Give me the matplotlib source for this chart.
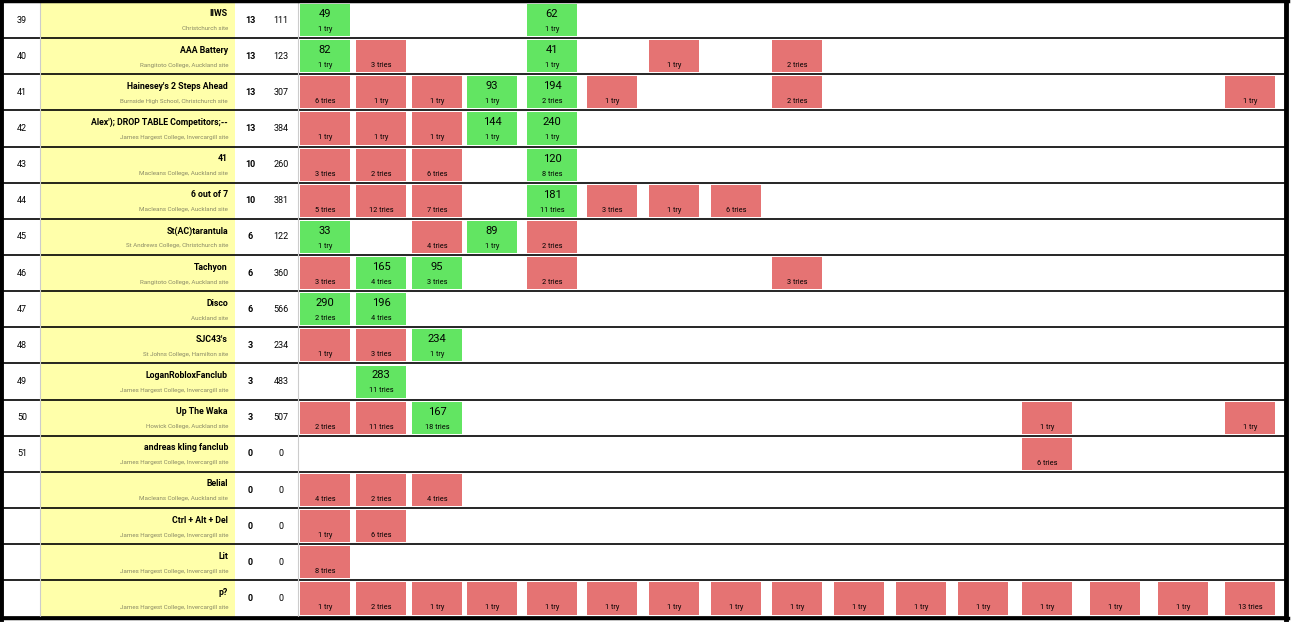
import matplotlib
matplotlib.use("Agg")
import matplotlib.pyplot as plt
from matplotlib.patches import Rectangle

ranks = ["39","40","41","42","43","44","45","46","47","48","49","50","51","","","",""]
teams = ["IIWS","AAA Battery","Hainesey's 2 Steps Ahead","Alex'); DROP TABLE Competitors;--","41","6 out of 7",
         "St(AC)tarantula","Tachyon","Disco","SJC43's","LoganRobloxFanclub","Up The Waka","andreas kling fanclub",
         "Belial","Ctrl + Alt + Del","Lit","p?"]
sites = ["Christchurch site","Rangitoto College, Auckland site","Burnside High School, Christchurch site",
         "James Hargest College, Invercargill site","Macleans College, Auckland site","Macleans College, Auckland site",
         "St Andrews College, Christchurch site","Rangitoto College, Auckland site","Auckland site",
         "St Johns College, Hamilton site","James Hargest College, Invercargill site","Howick College, Auckland site",
         "James Hargest College, Invercargill site","Macleans College, Auckland site",
         "James Hargest College, Invercargill site","James Hargest College, Invercargill site",
         "James Hargest College, Invercargill site"]
solved = [13,13,13,13,10,10,6,6,6,3,3,3,0,0,0,0,0]
penalty = [111,123,307,384,260,381,122,360,566,234,483,507,0,0,0,0,0]
# per problem: (solve time or None, tries); tries 0 = no attempt
results = [
    {0:(49,1),4:(62,1)},
    {0:(82,1),1:(None,3),4:(41,1),6:(None,1),8:(None,2)},
    {0:(None,6),1:(None,1),2:(None,1),3:(93,1),4:(194,2),5:(None,1),8:(None,2),15:(None,1)},
    {0:(None,1),1:(None,1),2:(None,1),3:(144,1),4:(240,1)},
    {0:(None,3),1:(None,2),2:(None,6),4:(120,8)},
    {0:(None,5),1:(None,12),2:(None,7),4:(181,11),5:(None,3),6:(None,1),7:(None,6)},
    {0:(33,1),2:(None,4),3:(89,1),4:(None,2)},
    {0:(None,3),1:(165,4),2:(95,3),4:(None,2),8:(None,3)},
    {0:(290,2),1:(196,4)},
    {0:(None,1),1:(None,3),2:(234,1)},
    {1:(283,11)},
    {0:(None,2),1:(None,11),2:(167,18),12:(None,1),15:(None,1)},
    {12:(None,6)},
    {0:(None,4),1:(None,2),2:(None,4)},
    {0:(None,1),1:(None,6)},
    {0:(None,8)},
    {i:(None,t) for i,t in enumerate([1,2,1,1,1,1,1,1,1,1,1,1,1,1,1,13])},
]

# layout
col_left = [300,356,412,467,527,587,649,711,772,834,896,958,1022,1090,1158,1225]
cell_w = 50
row_top0, row_h = 2, 36.15
GREEN, RED, YELLOW = "#62e562", "#e57373", "#ffffaa"

fig = plt.figure(figsize=(12.91, 6.26), dpi=100)
ax = fig.add_axes([0, 0, 1, 1])
ax.set_xlim(0, 1291); ax.set_ylim(626, 0); ax.axis("off")
font = "Roboto"

def tries_txt(t):
    return "1 try" if t == 1 else f"{t} tries"

n = len(teams)
for i in range(n):
    top = row_top0 + i * row_h
    bot = top + row_h
    ax.add_patch(Rectangle((40, top), 195, row_h, color=YELLOW, lw=0))
    ax.plot([4, 1284], [bot, bot], color="black", lw=1.2)
    ax.text(22, top + row_h/2, ranks[i], ha="center", va="center", fontsize=6.5, family=font)
    ax.text(228, top + 12, teams[i], ha="right", va="center", fontsize=6.3, family=font, weight="bold")
    ax.text(228, top + 27, sites[i], ha="right", va="center", fontsize=4.5, family=font, color="#888866")
    ax.text(250, top + row_h/2, str(solved[i]), ha="center", va="center", fontsize=6.5, family=font, weight="bold")
    ax.text(281, top + row_h/2, str(penalty[i]), ha="center", va="center", fontsize=6.5, family=font)
    for p, (tm, t) in results[i].items():
        x = col_left[p]
        ax.add_patch(Rectangle((x, top + 2), cell_w, row_h - 4, color=GREEN if tm is not None else RED, lw=0))
        ax.text(x + cell_w/2, top + 27.5, tries_txt(t), ha="center", va="center", fontsize=5.3, family=font)
        if tm is not None:
            ax.text(x + cell_w/2, top + 12, str(tm), ha="center", va="center", fontsize=8, family=font)

bottom = row_top0 + n * row_h
ax.plot([40, 40], [0, bottom], color="#cccccc", lw=0.8)
ax.plot([298, 298], [0, bottom], color="#cccccc", lw=0.8)
ax.plot([1, 1], [0, bottom + 2], color="black", lw=3.5)
ax.plot([1286, 1286], [0, bottom + 2], color="black", lw=3.5)
ax.plot([0, 1288], [1, 1], color="black", lw=2.5)
ax.plot([0, 1288], [bottom + 1, bottom + 1], color="black", lw=2.5)

fig.savefig("out.png", dpi=100)
